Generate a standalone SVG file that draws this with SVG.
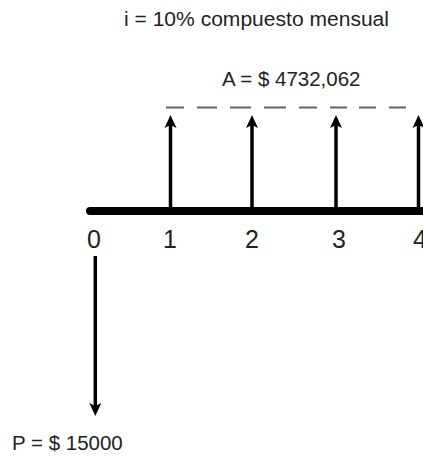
<svg xmlns="http://www.w3.org/2000/svg" width="423" height="457" viewBox="0 0 423 457">
<style>
.t{font-family:"Liberation Sans",Arial,sans-serif;fill:#222;font-size:20.5px}
.n{font-family:"Liberation Sans",Arial,sans-serif;fill:#222;font-size:25px;text-anchor:middle}
.shaft{stroke:#000;stroke-width:3.5;fill:none}
.head{fill:#000}
.dash{stroke:#666;stroke-width:2;fill:none}
</style>
<defs>
<path id="up" class="head" d="M0,-6 L6,7 L0,4 L-6,7 Z"/>
</defs>
<rect width="423" height="457" fill="#fff"/>
<g id="title"><text class="t" x="124" y="25.5" textLength="265" lengthAdjust="spacingAndGlyphs">i = 10% compuesto mensual</text></g>
<g id="annuity-label"><text class="t" x="222" y="86">A = $ 4732,062</text></g>
<g id="principal-label"><text class="t" x="12" y="450">P = $ 15000</text></g>
<g id="connectors">
<path class="dash" d="M166,107.5H184M197,107.5H217M230,107.5H251M264,107.5H286M299,107.5H317M330,107.5H347M359,107.5H376M389,107.5H406"/>
<line x1="90" y1="211" x2="430" y2="211" stroke="#000" stroke-width="8" stroke-linecap="round"/>
<line class="shaft" x1="170.5" y1="208" x2="170.5" y2="124"/>
<use href="#up" x="170.5" y="121"/>
<line class="shaft" x1="252" y1="208" x2="252" y2="124"/>
<use href="#up" x="252" y="121"/>
<line class="shaft" x1="336" y1="208" x2="336" y2="124"/>
<use href="#up" x="336" y="121"/>
<line class="shaft" x1="418.5" y1="208" x2="418.5" y2="124"/>
<use href="#up" x="418.5" y="121"/>
<line class="shaft" x1="95.3" y1="256" x2="95.3" y2="408"/>
<use href="#up" transform="translate(95.3,410) rotate(180)"/>
</g>
<g id="tick-0"><text class="n" x="94" y="248">0</text></g>
<g id="tick-1"><text class="n" x="170" y="248">1</text></g>
<g id="tick-2"><text class="n" x="252" y="248">2</text></g>
<g id="tick-3"><text class="n" x="339" y="248">3</text></g>
<g id="tick-4"><text class="n" x="420" y="248">4</text></g>
</svg>
